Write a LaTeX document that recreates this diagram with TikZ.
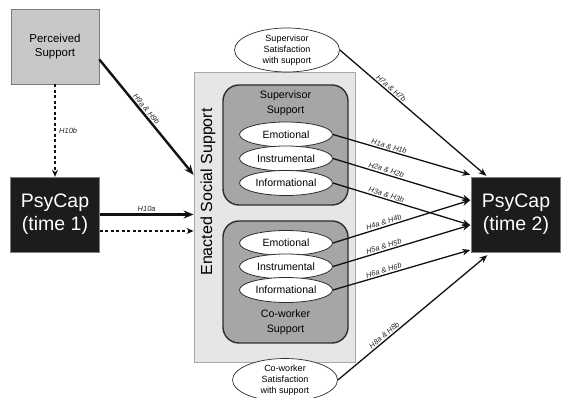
\documentclass[tikz,border=0pt]{standalone}
\usepackage{fontspec}
\setmainfont{Liberation Sans}
\usetikzlibrary{arrows.meta,calc,shapes.geometric}
\definecolor{percfill}{HTML}{C8C8C8}
\definecolor{percline}{HTML}{7A7A7A}
\definecolor{capfill}{HTML}{1C1C1C}
\definecolor{esfill}{HTML}{E6E6E6}
\definecolor{esline}{HTML}{A8A8A8}
\definecolor{grpfill}{HTML}{A6A6A6}
\definecolor{grpline}{HTML}{2E2E2E}
\definecolor{inkline}{HTML}{111111}
\tikzset{
  perceivedbox/.style={draw=percline, fill=percfill, minimum width=88pt, minimum height=75pt,
    inner sep=0pt, align=center, font=\fontsize{11.5}{14}\selectfont},
  capbox/.style={draw=gray, fill=capfill, text=white, minimum width=89pt, minimum height=75pt,
    inner sep=0pt, align=center, font=\fontsize{19.5}{23}\selectfont},
  enactedbox/.style={draw=esline, line width=0.8pt, fill=esfill, minimum width=161pt, minimum height=290pt, inner sep=0pt},
  groupbox/.style={draw=grpline, line width=1.4pt, fill=grpfill, rounded corners=16pt,
    minimum width=125pt, inner sep=0pt},
  kindoval/.style={ellipse, draw=grpline, line width=0.8pt, fill=white, minimum width=93pt, minimum height=25pt,
    inner sep=0pt, font=\fontsize{10.5}{12}\selectfont},
  satoval/.style={ellipse, draw=grpline, line width=0.7pt, fill=white, minimum width=105pt,
    inner sep=0pt, align=center, font=\fontsize{9}{11}\selectfont},
  grouptitle/.style={align=center, font=\fontsize{10.7}{15}\selectfont},
  hyp/.style={font=\itshape\fontsize{7.5}{9}\selectfont, inner sep=1.2pt, text=black!85},
  thinarrow/.style={draw=inkline, line width=1.3pt, -{Stealth[length=8pt,width=6.5pt]}},
  thickarrow/.style={draw=inkline, line width=2.4pt, -{Stealth[length=10pt,width=8pt]}},
  dasharrow/.style={draw=inkline, line width=2pt, dash pattern=on 3pt off 2.5pt,
    -{Stealth[length=7pt,width=6pt]}},
}
\begin{document}
\begin{tikzpicture}[x=1pt,y=1pt]
\useasboundingbox (0,0) rectangle (562,398);

% left column
\node[perceivedbox] (perceived) at (55,351.5) {Perceived\\Support};
\node[capbox] (psy1) at (55,183.5) {PsyCap\\(time 1)};

% enacted support panel with its two groups
\node[enactedbox] (enacted) at (274.5,181) {};
\node[rotate=90, font=\fontsize{16}{18}\selectfont] (enactedlabel) at (208,206) {Enacted Social Support};

\node[groupbox, minimum height=120pt] (sup) at (285.5,253) {};
\node[grouptitle] (suptitle) at (285.5,295) {Supervisor\\Support};
\node[kindoval] (se) at (286,263.5) {Emotional};
\node[kindoval] (si) at (286,239.5) {Instrumental};
\node[kindoval] (sf) at (286,215) {Informational};

\node[groupbox, minimum height=122pt] (cow) at (285.5,116) {};
\node[kindoval] (ce) at (286,155) {Emotional};
\node[kindoval] (ci) at (286,131.5) {Instrumental};
\node[kindoval] (cf) at (286,108) {Informational};
\node[grouptitle] (cowtitle) at (285.5,76) {Co-worker\\Support};

% satisfaction ovals
\node[satoval, minimum height=44pt] (supsat) at (287,348) {Supervisor\\Satisfaction\\with support};
\node[satoval, minimum height=37pt] (cowsat) at (285,18) {Co-worker\\Satisfaction\\with support};

% outcome
\node[capbox] (psy2) at (516,183.5) {PsyCap\\(time 2)};

% target points on the outcome box
\coordinate (t1) at ($(psy2.north west)+(-1,2)$);
\coordinate (t2) at ($(psy2.north west)!0.31!(psy2.south west)+(-1,0)$);
\coordinate (t3) at ($(psy2.north west)!0.64!(psy2.south west)+(-1,0)$);
\coordinate (t4) at ($(psy2.north west)!0.97!(psy2.south west)+(-1,0)$);
\coordinate (t7) at ($(psy2.north west)+(15,1)$);
\coordinate (t8) at ($(psy2.south west)+(16,-3)$);

% paths into the enacted panel
\draw[dasharrow] (perceived.south) -- node[hyp, right=2pt] {H10b} (psy1.north);
\draw[thickarrow] ($(perceived.north east)!0.67!(perceived.south east)$)
  -- node[hyp, sloped, above, pos=0.46] {H9a \& H9b}
  ($(enacted.north west)!0.355!(enacted.south west)$);
\draw[thickarrow] (psy1.east) -- node[hyp, above=1pt] {H10a} (enacted.west |- psy1.east);
\coordinate (dstart) at ($(psy1.east)+(0,-16.5)$);
\draw[dasharrow] (dstart) -- (enacted.west |- dstart);

% paths into PsyCap (time 2)
\draw[thinarrow] (se.east) -- node[hyp, sloped, above, pos=0.4] {H1a \& H1b} (t1);
\draw[thinarrow] (si.east) -- node[hyp, sloped, above, pos=0.38] {H2a \& H2b} (t2);
\draw[thinarrow] (sf.east) -- node[hyp, sloped, above, pos=0.38] {H3a \& H3b} (t3);
\draw[thinarrow] (ce.east) -- node[hyp, sloped, above, pos=0.38] {H4a \& H4b} (t2);
\draw[thinarrow] (ci.east) -- node[hyp, sloped, above, pos=0.38] {H5a \& H5b} (t3);
\draw[thinarrow] (cf.east) -- node[hyp, sloped, above, pos=0.38] {H6a \& H6b} (t4);
\draw[thinarrow] (supsat.east) -- node[hyp, sloped, above, pos=0.33] {H7a \& H7b} (t7);
\draw[thinarrow] (cowsat.east) -- node[hyp, sloped, above, pos=0.33] {H8a \& H8b} (t8);
\end{tikzpicture}
\end{document}
